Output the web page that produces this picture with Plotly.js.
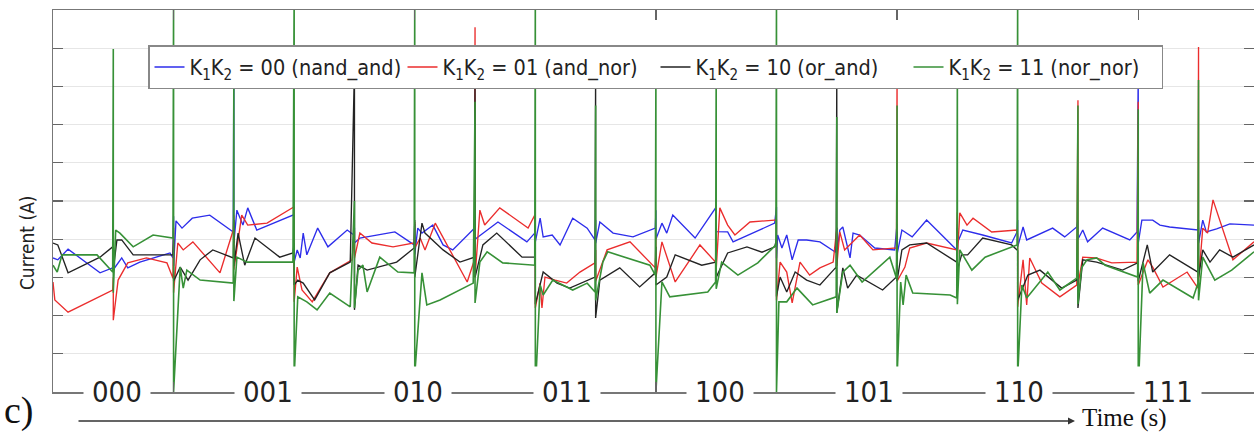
<!DOCTYPE html>
<html>
<head>
<meta charset="utf-8">
<script src="https://cdn.plot.ly/plotly-3.0.1.min.js"></script>
<style>html,body{margin:0;padding:0;background:#fff;}#chart{width:1254px;height:432px;}</style>
</head>
<body>
<div id="chart"></div>
<script>
// ---- data ----
const eventT = [1,2,3,4,5,6,7,8,9,10,11,12,13,14,15,16,17,18,19];
const segLabels = ['000','001','010','011','100','101','110','111'];
const segLabelT = [1.06, 3.57, 6.05, 8.53, 11.06, 13.53, 16.02, 18.49];
const xTickVals = [2, 6, 10, 14, 18];
const yTickVals = [1, 2, 3, 4, 5, 6, 7, 8, 9];

const seriesNames = [
  'K<sub>1</sub>K<sub>2</sub> = 00 (nand_and)',
  'K<sub>1</sub>K<sub>2</sub> = 01 (and_nor)',
  'K<sub>1</sub>K<sub>2</sub> = 10 (or_and)',
  'K<sub>1</sub>K<sub>2</sub> = 11 (nor_nor)'
];

const blueT = [0, 0.08, 0.25, 0.78, 0.99,
 1.14, 1.24, 1.44, 1.94, 1.99,
 2.04, 2.14, 2.31, 2.60, 2.99,
 3.05, 3.15, 3.23, 3.38, 3.98,
 4.05, 4.10, 4.15, 4.21, 4.39, 4.56, 4.88, 4.99,
 5.09, 5.67, 5.99,
 6.05, 6.12, 6.30, 6.47, 6.63, 6.99,
 7.38, 7.86, 7.99,
 8.08, 8.13, 8.28, 8.41, 8.62, 8.86, 8.99,
 9.07, 9.29, 9.62, 9.99,
 10.10, 10.18, 10.28, 10.65, 10.99,
 11.19, 11.28, 11.97,
 12.02, 12.09, 12.17, 12.26, 12.36, 12.50, 12.72, 12.98,
 13.05, 13.10, 13.22, 13.27, 13.38, 13.63, 13.96,
 14.08, 14.25, 14.49, 14.99,
 15.09, 15.42, 15.90, 15.99,
 16.09, 16.15, 16.58, 16.78, 16.98,
 17.08, 17.16, 17.41, 17.86, 17.98,
 18.06, 18.24, 18.36, 18.52, 18.99,
 19.07, 19.13, 19.30, 19.52, 19.92];
const blueV = [3.51, 3.46, 3.74, 3.12, 3.25,
 3.51, 3.25, 3.40, 3.64, 3.51,
 4.48, 4.29, 4.55, 4.63, 4.19,
 4.76, 4.37, 4.82, 4.24, 4.63,
 3.72, 3.51, 4.16, 3.59, 4.29, 3.80, 4.24, 4.11,
 4.03, 4.19, 3.85,
 4.29, 4.16, 4.37, 3.85, 3.72, 4.29,
 4.45, 3.93, 4.16,
 4.55, 4.06, 4.11, 3.85, 4.55, 4.29, 3.98,
 4.45, 4.16, 4.06, 4.29,
 4.42, 4.16, 4.63, 4.03, 4.82,
 4.19, 3.93, 4.42,
 4.11, 3.77, 4.11, 3.46, 3.98, 3.98, 3.93, 3.66,
 4.24, 4.32, 3.51, 4.16, 4.11, 3.77, 3.72,
 4.24, 4.06, 4.50, 3.72,
 4.24, 4.11, 3.90, 4.19,
 4.32, 3.98, 4.29, 4.06, 4.32,
 4.24, 3.93, 4.29, 3.98, 4.19,
 4.50, 4.50, 4.37, 4.32, 4.24,
 4.50, 4.19, 4.27, 4.40, 4.37];
const blueTop = [3.6, 4.6, 9.08, 4.6, 4.3, 4.4, 4.6, 4.63, 4.5, 4.76, 4.9, 4.84, 4.3, 4.4, 4.4, 4.5, 4.5, 8.5, 4.3];
const blueBot = [3.2, 3.3, 3.9, 3.4, 3.9, 3.6, 4.0, 3.93, 3.9, 4.0, 4.2, 3.5, 3.6, 3.6, 3.9, 3.8, 4.0, 3.9, 3.9];

const redT = [0, 0.03, 0.25, 0.99,
 1.08, 1.24, 1.55, 1.89, 1.99,
 2.07, 2.16, 2.32, 2.77, 2.99,
 3.13, 3.23, 3.55, 3.98,
 4.05, 4.13, 4.30, 4.59, 4.96,
 5.09, 5.29, 5.64, 5.99,
 6.09, 6.17, 6.34, 6.87, 6.99,
 7.08, 7.16, 7.41, 7.88, 7.99,
 8.08, 8.11, 8.16, 8.33, 8.52, 8.74, 8.99,
 9.19, 9.57, 9.99,
 10.10, 10.32, 10.73, 10.99,
 11.06, 11.19, 11.31, 11.56, 11.97,
 12.06, 12.17, 12.26, 12.39, 12.55, 12.72, 12.94,
 13.05, 13.13, 13.38, 13.60, 13.99,
 14.13, 14.21, 14.49, 14.99,
 15.04, 15.16, 15.26, 15.57, 15.99,
 16.09, 16.15, 16.20, 16.40, 16.70, 16.98,
 17.08, 17.30, 17.56, 17.98,
 18.16, 18.24, 18.41, 18.81, 18.99,
 19.07, 19.15, 19.24, 19.57, 19.92];
const redV = [2.88, 2.41, 2.09, 2.67,
 2.93, 3.38, 3.51, 3.38, 2.98,
 3.90, 3.72, 3.93, 3.12, 4.24,
 4.63, 4.37, 4.42, 4.84,
 3.27, 2.67, 2.36, 3.12, 3.46,
 4.16, 3.90, 3.80, 3.90,
 4.03, 3.72, 4.42, 2.88, 3.46,
 4.76, 4.37, 4.82, 4.29, 4.63,
 2.85, 2.20, 3.01, 2.93, 2.85, 3.14, 3.38,
 3.72, 3.93, 3.25,
 3.93, 2.88, 3.85, 3.40,
 4.82, 4.37, 4.11, 4.45, 4.50,
 3.40, 3.14, 2.33, 3.40, 3.06, 3.25, 3.40,
 4.19, 3.72, 4.11, 3.72, 3.77,
 3.27, 3.77, 3.90, 3.72,
 4.69, 4.37, 4.55, 4.19, 4.24,
 3.46, 2.28, 3.51, 2.85, 2.49, 2.80,
 3.53, 3.51, 3.38, 3.40,
 3.46, 3.27, 2.75, 3.14, 2.72,
 4.29, 4.16, 5.03, 3.46, 3.93];
const redTop = [3.0, 4.3, 4.63, 4.85, 4.2, 4.45, 9.55, 4.63, 3.72, 4.1, 4.85, 4.5, 4.3, 8.5, 4.7, 4.1, 7.64, 7.6, 9.03];
const redBot = [1.88, 2.6, 3.2, 2.36, 3.5, 3.77, 3.0, 2.2, 2.9, 3.0, 3.2, 2.4, 3.3, 2.9, 3.5, 2.23, 2.8, 2.8, 2.9];

const blackT = [0, 0.08, 0.25, 0.78, 0.99,
 1.06, 1.14, 1.33, 1.99,
 2.11, 2.24, 2.44, 2.65, 2.99,
 3.07, 3.18, 3.35, 3.76, 3.98,
 4.06, 4.15, 4.34, 4.59, 4.93,
 5.06, 5.21, 5.70, 5.99,
 6.12, 6.17, 6.47, 6.75, 6.99,
 7.13, 7.36, 7.78, 7.99,
 8.13, 8.36, 8.57, 8.99,
 9.07, 9.40, 9.73, 9.99,
 10.18, 10.32, 10.76, 10.99,
 11.19, 11.51, 11.76, 11.97,
 12.06, 12.17, 12.31, 12.50, 12.72, 12.99,
 13.10, 13.18, 13.33, 13.76, 13.99,
 14.08, 14.21, 14.49, 14.99,
 15.07, 15.17, 15.42, 15.90, 15.99,
 16.09, 16.17, 16.37, 16.73, 16.98,
 17.08, 17.31, 17.74, 17.99,
 18.15, 18.24, 18.52, 18.99,
 19.07, 19.19, 19.35, 19.57, 19.92];
const blackV = [3.90, 3.85, 3.12, 3.53, 3.80,
 3.98, 3.98, 3.59, 3.59,
 3.27, 2.93, 3.46, 3.72, 3.51,
 4.16, 3.32, 4.03, 3.53, 3.64,
 2.93, 2.85, 2.41, 3.12, 3.40,
 3.32, 3.19, 3.40, 3.77,
 4.42, 4.16, 3.72, 3.40, 3.53,
 3.85, 4.16, 3.53, 3.53,
 3.14, 2.85, 2.72, 3.01,
 2.93, 3.25, 2.75, 3.12,
 3.01, 3.59, 3.32, 3.40,
 3.64, 3.80, 3.66, 3.80,
 3.01, 2.62, 3.14, 2.93, 2.80, 3.27,
 3.25, 2.72, 3.06, 2.67, 3.01,
 3.72, 3.85, 3.90, 3.40,
 3.59, 3.59, 4.03, 3.85, 3.72,
 2.75, 3.06, 3.19, 2.72, 2.93,
 3.46, 3.40, 3.19, 3.38,
 3.85, 3.14, 3.59, 3.14,
 3.72, 3.40, 3.72, 3.53, 3.85];
const blackTop = [4.0, 4.0, 4.5, 3.9, 8.5, 4.5, 8.5, 4.0, 8.5, 3.8, 4.0, 4.0, 8.5, 4.2, 4.3, 3.7, 3.2, 3.9, 4.5];
const blackBot = [3.2, 2.9, 3.3, 2.8, 2.15, 3.0, 3.0, 2.3, 1.94, 2.8, 3.0, 2.5, 2.07, 2.9, 3.2, 2.4, 2.2, 2.9, 3.0];

const greenT = [0, 0.07, 0.15, 0.73, 0.99,
 1.04, 1.11, 1.33, 1.66, 1.99,
 2.11, 2.16, 2.22, 2.44, 2.99,
 3.05, 3.22, 3.98,
 4.06, 4.21, 4.38, 4.59, 4.93,
 5.06, 5.14, 5.21, 5.42, 5.72, 5.99,
 6.12, 6.20, 6.42, 6.97,
 7.08, 7.20, 7.46, 7.99,
 8.08, 8.13, 8.29, 8.62, 8.86, 8.99,
 9.12, 9.20, 9.90, 9.99,
 10.10, 10.23, 10.86, 10.99,
 11.09, 11.36, 11.69, 11.99,
 12.04, 12.17, 12.34, 12.60, 12.99,
 13.10, 13.22, 13.42, 13.88, 13.99,
 14.06, 14.10, 14.15, 14.26, 14.88, 14.99,
 15.04, 15.24, 15.46, 15.99,
 16.07, 16.15, 16.50, 16.70, 16.98,
 17.06, 17.15, 17.31, 17.45, 17.99,
 18.08, 18.19, 18.41, 18.91, 18.99,
 19.07, 19.27, 19.55, 19.92];
const greenV = [3.32, 3.14, 3.59, 3.59, 3.14,
 4.24, 4.16, 3.80, 4.11, 4.03,
 3.27, 2.72, 3.19, 2.93, 2.85,
 3.53, 3.40, 3.40,
 2.49, 2.36, 2.15, 2.59, 2.23,
 3.19, 3.32, 2.62, 3.53, 3.14, 3.12,
 3.12, 2.28, 2.41, 2.85,
 3.40, 3.67, 3.38, 3.32,
 2.80, 2.54, 2.93, 2.67, 2.85, 2.62,
 3.40, 3.67, 3.32, 3.06,
 2.88, 2.49, 2.62, 2.88,
 3.40, 3.06, 3.38, 3.85,
 2.36, 2.36, 2.72, 2.28, 2.49,
 3.14, 3.32, 2.88, 3.53, 2.98,
 2.88, 2.28, 3.06, 2.59, 2.54, 2.46,
 3.72, 3.19, 3.53, 3.85,
 2.80, 2.46, 3.14, 2.67, 2.98,
 3.25, 3.46, 3.51, 3.32, 3.01,
 3.38, 2.59, 2.93, 2.46, 2.85,
 3.53, 2.93, 3.19, 3.67];
const greenTop = [8.98, 10.5, 8.5, 10.5, 5.0, 10.5, 7.6, 10.5, 7.5, 8.5, 8.5, 10.5, 7.2, 7.5, 8.5, 10.5, 7.5, 7.4, 8.17];
const greenBot = [2.6, 0, 2.38, 0.39, 2.2, 0.45, 2.33, 0, 2.4, 0, 2.7, 0, 2.07, 0.39, 2.3, 0.39, 2.3, 0, 2.4];

// ---- build polylines: insert each switching spike at its event time ----
function buildSeries(T, V, top, bot) {
  const xs = [], ys = [];
  let k = 0;
  for (let i = 0; i < T.length; i++) {
    while (k < eventT.length && eventT[k] < T[i]) {
      xs.push(eventT[k], eventT[k]);
      ys.push(top[k], bot[k]);
      k++;
    }
    xs.push(T[i]); ys.push(V[i]);
  }
  return {x: xs, y: ys};
}

const NARROW = "'Liberation Sans Narrow', 'Arial Narrow', 'DejaVu Sans Condensed', 'Liberation Sans', sans-serif";
const colors = ['rgb(45,45,235)', 'rgb(235,45,45)', 'rgb(35,35,35)', 'rgb(55,145,55)'];
const raw = [
  [blueT, blueV, blueTop, blueBot],
  [redT, redV, redTop, redBot],
  [blackT, blackV, blackTop, blackBot],
  [greenT, greenV, greenTop, greenBot]
];
const traces = raw.map((r, i) => {
  const s = buildSeries(r[0], r[1], r[2], r[3]);
  return {
    type: 'scatter', mode: 'lines', x: s.x, y: s.y, name: seriesNames[i],
    line: {color: colors[i], width: i === 3 ? 1.6 : 1.35},
    hoverinfo: 'skip'
  };
});

const annotations = segLabels.map((lab, i) => ({
  xref: 'x', yref: 'y', x: segLabelT[i], y: 0, text: lab, showarrow: false,
  xanchor: 'center', yanchor: 'middle', bgcolor: '#ffffff', borderpad: 8,
  font: {family: NARROW, size: 29, color: '#222'}
}));
annotations.push({
  xref: 'paper', yref: 'paper', x: -0.0216, y: 0.39, text: 'Current (A)', textangle: -90,
  showarrow: false, xanchor: 'center', yanchor: 'middle',
  font: {family: NARROW, size: 19, color: '#222'}
});
annotations.push({
  xref: 'paper', yref: 'paper', x: (36 - 53) / 1201, y: (392 - 410) / 382, text: 'c)',
  showarrow: false, xanchor: 'right', yanchor: 'middle',
  font: {family: "'Liberation Serif', serif", size: 38, color: '#111'}
});
annotations.push({
  xref: 'paper', yref: 'paper', x: (1075 - 53) / 1201, y: (392 - 421) / 382, text: '',
  showarrow: true, axref: 'pixel', ayref: 'pixel', ax: -998, ay: 0,
  arrowhead: 2, arrowsize: 1, arrowwidth: 1.4, arrowcolor: '#333', standoff: 0, startstandoff: 0
});
annotations.push({
  xref: 'paper', yref: 'paper', x: (1080 - 53) / 1201, y: (392 - 418) / 382, text: 'Time (s)',
  showarrow: false, xanchor: 'left', yanchor: 'middle',
  font: {family: "'Liberation Serif', serif", size: 25, color: '#111'}
});

const layout = {
  width: 1254, height: 432,
  margin: {l: 53, r: 0, t: 10, b: 40, pad: 0},
  paper_bgcolor: '#ffffff', plot_bgcolor: '#ffffff',
  showlegend: true,
  legend: {
    orientation: 'h', x: (148 - 53) / 1201, y: (392 - 45) / 382, xanchor: 'left', yanchor: 'top',
    bgcolor: '#ffffff', bordercolor: '#888', borderwidth: 1.5,
    entrywidth: 208, entrywidthmode: 'pixels',
    font: {family: NARROW, size: 21.5, color: '#222'}
  },
  xaxis: {
    range: [0, 19.92], showgrid: false, zeroline: false, showline: true, linecolor: '#777', linewidth: 1.5,
    mirror: 'ticks', ticks: 'inside', ticklen: 10, tickcolor: '#666', tickwidth: 1.2,
    tickvals: xTickVals, showticklabels: false
  },
  yaxis: {
    range: [0, 10], showgrid: true, gridcolor: '#e6e6e6', gridwidth: 1.2, zeroline: false,
    showline: true, linecolor: '#777', linewidth: 1.5, mirror: 'ticks', ticks: 'inside', ticklen: 10,
    tickcolor: '#666', tickwidth: 1.2, tickvals: yTickVals, showticklabels: false
  },
  annotations: annotations
};

Plotly.newPlot('chart', traces, layout, {displayModeBar: false, staticPlot: true});
</script>
</body>
</html>
